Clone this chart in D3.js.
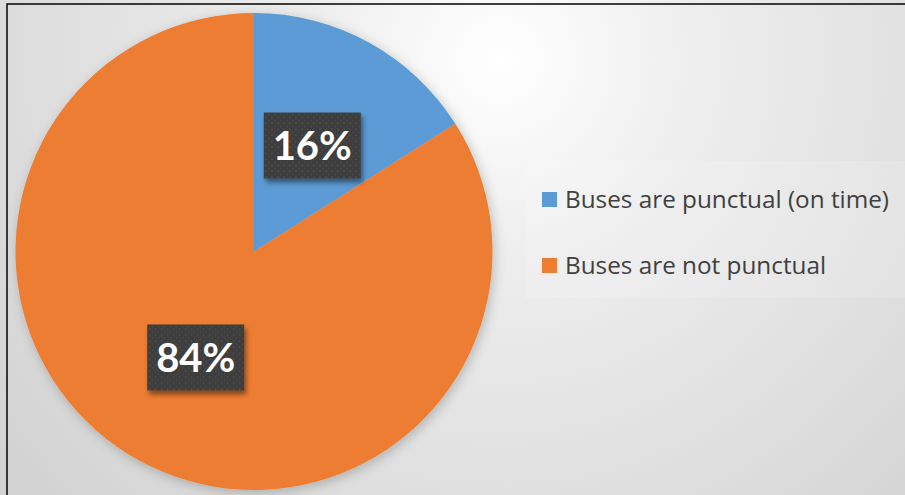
<!DOCTYPE html>
<html>
<head>
<meta charset="utf-8">
<script src="https://cdn.jsdelivr.net/npm/d3@7"></script>
<style>
  html, body { margin: 0; padding: 0; background: #fff; }
  svg { display: block; }
</style>
</head>
<body>
<svg id="chart" width="905" height="495"></svg>
<script>
// Survey result: bus punctuality
const categories = ["Buses are punctual (on time)", "Buses are not punctual"];
const values = [16, 84];
const colors = ["#5B9BD5", "#ED7D31"];

const W = 905, H = 495;
const svg = d3.select("#chart");
const defs = svg.append("defs");

// Background radial gradient
const bg = defs.append("radialGradient").attr("id", "bgGrad")
  .attr("gradientUnits", "userSpaceOnUse")
  .attr("cx", 500).attr("cy", 60).attr("r", 640);
bg.append("stop").attr("offset", 0).attr("stop-color", "#ffffff");
bg.append("stop").attr("offset", 0.3).attr("stop-color", "#eeeeee");
bg.append("stop").attr("offset", 0.75).attr("stop-color", "#dddddd");
bg.append("stop").attr("offset", 1).attr("stop-color", "#d2d2d2");

// Soft shadow around the pie
const pieShadow = defs.append("filter").attr("id", "pieShadow")
  .attr("x", "-20%").attr("y", "-20%").attr("width", "140%").attr("height", "140%");
pieShadow.append("feDropShadow").attr("dx", 2).attr("dy", 3)
  .attr("stdDeviation", 6).attr("flood-color", "#000").attr("flood-opacity", 0.22);

// Shadow for the value label boxes
const boxShadow = defs.append("filter").attr("id", "boxShadow")
  .attr("x", "-20%").attr("y", "-20%").attr("width", "140%").attr("height", "150%");
boxShadow.append("feDropShadow").attr("dx", 2).attr("dy", 4)
  .attr("stdDeviation", 2.5).attr("flood-color", "#000").attr("flood-opacity", 0.45);

// Dotted texture for the label boxes
const pat = defs.append("pattern").attr("id", "dots")
  .attr("patternUnits", "userSpaceOnUse").attr("width", 6).attr("height", 6);
pat.append("rect").attr("width", 6).attr("height", 6).attr("fill", "#3d3d3d");
pat.append("rect").attr("x", 1).attr("y", 1).attr("width", 1.5).attr("height", 1.5).attr("fill", "#555555");
pat.append("rect").attr("x", 4).attr("y", 4).attr("width", 1.5).attr("height", 1.5).attr("fill", "#4b4b4b");

svg.append("rect").attr("width", W).attr("height", H).attr("fill", "url(#bgGrad)");

// Frame
svg.append("rect").attr("x", 7).attr("y", 4).attr("width", W + 10).attr("height", H + 10)
  .attr("fill", "none").attr("stroke", "#111").attr("stroke-width", 1.6);

// Pie
const cx = 254, cy = 251.5, R = 238.5;
const pie = d3.pie().sort(null).value(d => d.value);
const arcs = pie(categories.map((c, i) => ({ name: c, value: values[i], color: colors[i] })));
const arc = d3.arc().innerRadius(0).outerRadius(R);
const labelArc = d3.arc().innerRadius(R * 0.507).outerRadius(R * 0.507);

const g = svg.append("g").attr("transform", `translate(${cx},${cy})`);
g.append("g").attr("filter", "url(#pieShadow)")
  .selectAll("path").data(arcs).join("path")
  .attr("d", arc).attr("fill", d => d.data.color);

// Value labels
const total = d3.sum(values);
const bw = 97, bh = 66;
const lab = g.selectAll("g.lab").data(arcs).join("g").attr("class", "lab")
  .attr("transform", d => `translate(${labelArc.centroid(d)})`);
lab.append("rect").attr("x", -bw / 2).attr("y", -bh / 2).attr("width", bw).attr("height", bh)
  .attr("fill", "url(#dots)").attr("filter", "url(#boxShadow)");
lab.append("text").attr("text-anchor", "middle").attr("dy", "0.36em")
  .attr("fill", "#ffffff").attr("font-family", "Lato, 'Open Sans', sans-serif")
  .attr("font-weight", 700).attr("font-size", 40)
  .text(d => Math.round(d.data.value / total * 100) + "%");

// Legend
const legend = svg.append("g");
legend.append("rect").attr("x", 525).attr("y", 161).attr("width", 385).attr("height", 137)
  .attr("fill", "#ffffff").attr("opacity", 0.15);
const row = d3.scalePoint().domain(categories).range([199.5, 265.5]);
const items = legend.selectAll("g.item").data(arcs).join("g").attr("class", "item")
  .attr("transform", d => `translate(0,${row(d.data.name)})`);
items.append("rect").attr("x", 542).attr("y", -7.5).attr("width", 15).attr("height", 15)
  .attr("fill", d => d.data.color);
items.append("text").attr("x", 565).attr("y", 8.5)
  .attr("fill", "#404040").attr("font-family", "'Open Sans', 'Noto Sans', sans-serif")
  .attr("font-size", 24.3).text(d => d.data.name);
</script>
</body>
</html>
